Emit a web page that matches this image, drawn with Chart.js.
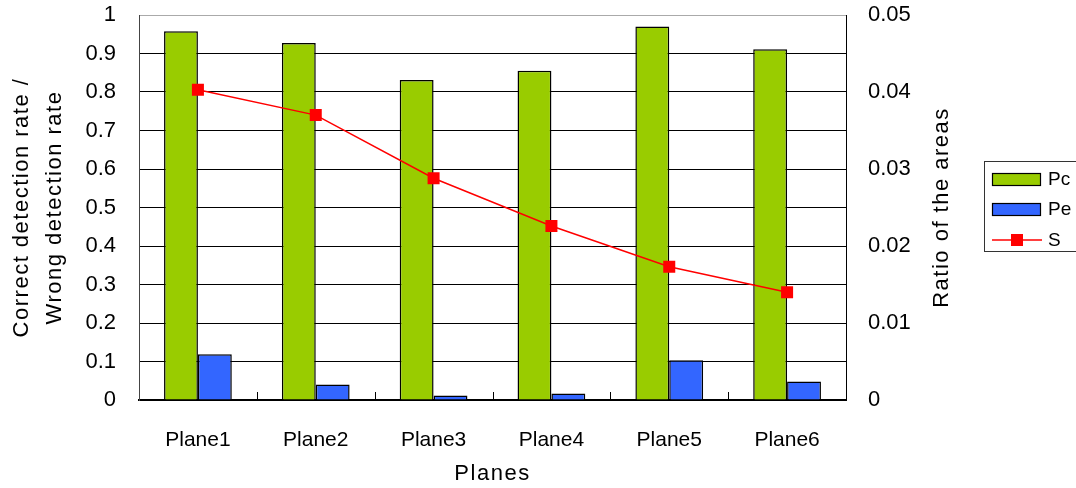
<!DOCTYPE html>
<html>
<head>
<meta charset="utf-8">
<script src="https://cdn.jsdelivr.net/npm/chart.js@4"></script>
<style>
    html, body { margin: 0; padding: 0; background: #fff; }
    #wrap { width: 1076px; height: 488px; }
</style>
</head>
<body>
<div id="wrap"><canvas id="chart" width="1076" height="488"></canvas></div>
<script>
// === Data ===
const categories = ['Plane1', 'Plane2', 'Plane3', 'Plane4', 'Plane5', 'Plane6'];
const pcValues = [0.958, 0.927, 0.831, 0.855, 0.970, 0.911];
const peValues = [0.119, 0.040, 0.012, 0.017, 0.103, 0.048];
const sValues = [0.0403, 0.0370, 0.0288, 0.0226, 0.0173, 0.0140];
const seriesNames = ['Pc', 'Pe', 'S'];

const FONT = "'Liberation Sans', Arial, sans-serif";
const GREEN = '#99cc00';
const BLUE = '#3366ff';
const RED = '#ff0000';

// Axis titles and legend are painted by hand (right title reads bottom-to-top)
const decorations = {
    id: 'decorations',
    afterDraw(chart) {
        const { ctx, chartArea: area, scales } = chart;
        const x = scales.x;
        ctx.save();

        // small category ticks pointing up from the baseline
        ctx.strokeStyle = '#000';
        ctx.lineWidth = 1;
        const half = (x.getPixelForValue(1) - x.getPixelForValue(0)) / 2;
        for (let i = 1; i < categories.length; i++) {
            const px = Math.round(x.getPixelForValue(i) - half) + 0.5;
            ctx.beginPath();
            ctx.moveTo(px, area.bottom);
            ctx.lineTo(px, area.bottom - 8);
            ctx.stroke();
        }

        // titles
        ctx.fillStyle = '#000';
        ctx.font = `22px ${FONT}`;
        ctx.letterSpacing = '1.5px';
        ctx.textAlign = 'center';
        ctx.textBaseline = 'middle';
        const midY = (area.top + area.bottom) / 2;

        ctx.fillText('Planes', (area.left + area.right) / 2, 474);

        ctx.save();
        ctx.translate(22, midY);
        ctx.rotate(-Math.PI / 2);
        ctx.fillText('Correct detection rate /', 0, 0);
        ctx.restore();

        ctx.save();
        ctx.translate(55, midY);
        ctx.rotate(-Math.PI / 2);
        ctx.fillText('Wrong detection rate', 0, 0);
        ctx.restore();

        ctx.save();
        ctx.translate(942, midY);
        ctx.rotate(-Math.PI / 2);
        ctx.fillText('Ratio of the areas', 0, 0);
        ctx.restore();

        // legend box
        ctx.letterSpacing = '0px';
        ctx.strokeStyle = '#333';
        ctx.lineWidth = 1;
        ctx.strokeRect(984.5, 161.5, 100, 90);

        const ds = chart.data.datasets;
        const rows = [179, 209, 240];
        ctx.textAlign = 'left';
        ctx.font = `19px ${FONT}`;
        rows.forEach((y, i) => {
            const d = ds[i];
            if (d.type === 'line') {
                ctx.strokeStyle = d.borderColor;
                ctx.lineWidth = 1.5;
                ctx.beginPath();
                ctx.moveTo(992, y);
                ctx.lineTo(1042, y);
                ctx.stroke();
                ctx.fillStyle = d.pointBackgroundColor;
                ctx.fillRect(1011, y - 6, 12, 12);
            } else {
                ctx.fillStyle = d.backgroundColor;
                ctx.fillRect(992, y - 6, 49, 13);
                ctx.strokeStyle = '#000';
                ctx.lineWidth = 1.2;
                ctx.strokeRect(992.5, y - 5.5, 48, 12);
            }
            ctx.fillStyle = '#000';
            ctx.fillText(seriesNames[i], 1048, y + 1);
        });

        ctx.restore();
    }
};

// fixed axis sizes so the plot area lands where it should
function fixVertical(width) {
    return (s) => { s.width = width; s.paddingTop = 0; s.paddingBottom = 0; };
}

new Chart(document.getElementById('chart'), {
    type: 'bar',
    data: {
        labels: categories,
        datasets: [
            {
                label: seriesNames[0],
                data: pcValues,
                backgroundColor: GREEN,
                borderColor: '#000',
                borderWidth: 1.5,
                yAxisID: 'y',
                order: 2,
                barPercentage: 1,
                categoryPercentage: 0.575
            },
            {
                label: seriesNames[1],
                data: peValues,
                backgroundColor: BLUE,
                borderColor: '#000',
                borderWidth: 1.5,
                yAxisID: 'y',
                order: 2,
                barPercentage: 1,
                categoryPercentage: 0.575
            },
            {
                type: 'line',
                label: seriesNames[2],
                data: sValues,
                borderColor: RED,
                borderWidth: 1.5,
                pointStyle: 'rect',
                pointRadius: 8.5,
                pointBackgroundColor: RED,
                pointBorderColor: RED,
                pointBorderWidth: 0,
                tension: 0,
                yAxisID: 'y1',
                order: 1
            }
        ]
    },
    options: {
        responsive: false,
        animation: false,
        layout: { padding: { top: 15, left: 0, right: 0, bottom: 0 } },
        plugins: {
            legend: { display: false },
            tooltip: { enabled: false }
        },
        scales: {
            x: {
                grid: { display: false },
                border: { color: '#000', width: 2 },
                ticks: { color: '#000', font: { family: FONT, size: 21 }, padding: 20 },
                afterFit: (s) => { s.height = 88; s.paddingLeft = 0; s.paddingRight = 0; }
            },
            y: {
                position: 'left',
                min: 0,
                max: 1,
                ticks: {
                    stepSize: 0.1,
                    color: '#000',
                    font: { family: FONT, size: 22 },
                    padding: 23,
                    callback: (v) => String(+v.toFixed(1))
                },
                grid: {
                    drawTicks: false,
                    color: (c) => c.tick && c.tick.value >= 1 ? '#aaa' : '#000',
                    lineWidth: 1
                },
                border: { color: '#444', width: 1 },
                afterFit: fixVertical(139)
            },
            y1: {
                position: 'right',
                min: 0,
                max: 0.05,
                ticks: {
                    stepSize: 0.01,
                    color: '#000',
                    font: { family: FONT, size: 22 },
                    padding: 22,
                    callback: (v) => v === 0 ? '0' : v.toFixed(2)
                },
                grid: { drawOnChartArea: false, drawTicks: false },
                border: { color: '#000', width: 1 },
                afterFit: fixVertical(230)
            }
        }
    },
    plugins: [decorations]
});
</script>
</body>
</html>
